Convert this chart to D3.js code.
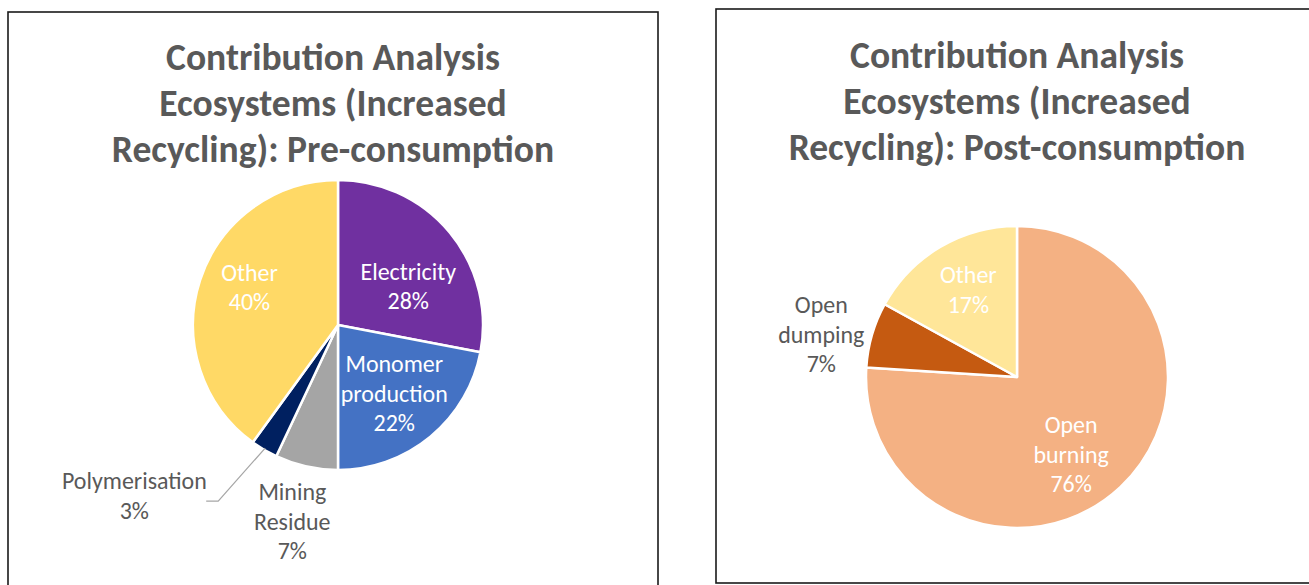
<!DOCTYPE html>
<html><head><meta charset="utf-8">
<script src="https://cdn.jsdelivr.net/npm/d3@7/dist/d3.min.js"></script>
<style>html,body{margin:0;padding:0;background:#fff;overflow:hidden}</style>
</head><body>
<svg id="c" width="1309" height="585"></svg>
<script>
// ---- data ----
const preTitle = ["Contribution Analysis", "Ecosystems (Increased", "Recycling): Pre-consumption"];
const preCategories = ["Electricity", "Monomer production", "Mining Residue", "Polymerisation", "Other"];
const preValues = [28, 22, 7, 3, 40];
const preLabelLines = [["Electricity"], ["Monomer", "production"], ["Mining", "Residue"], ["Polymerisation"], ["Other"]];

const postTitle = ["Contribution Analysis", "Ecosystems (Increased", "Recycling): Post-consumption"];
const postCategories = ["Open burning", "Open dumping", "Other"];
const postValues = [76, 7, 17];
const postLabelLines = [["Open", "burning"], ["Open", "dumping"], ["Other"]];

// ---- styles ----
const FONT = "Carlito, Calibri, 'Open Sans', 'Liberation Sans', sans-serif";
const preColors = ["#7030A0", "#4472C4", "#A5A5A5", "#002060", "#FFD966"];
const postColors = ["#F4B183", "#C55A11", "#FFE699"];
const TXT = "#595959";

const svg = d3.select("#c");

function measure(text, size, weight) {
  const t = svg.append("text").attr("font-family", FONT).attr("font-size", size)
    .attr("font-weight", weight).text(text);
  const w = t.node().getComputedTextLength();
  t.remove();
  return w;
}
const titleSize = 30 * 334 / measure("Contribution Analysis", 30, "bold");
const labelSize = 19 * 145 / measure("Polymerisation", 19, "normal");

function panel(cfg) {
  const g = svg.append("g");
  g.append("rect").attr("x", cfg.box[0]).attr("y", cfg.box[1])
    .attr("width", cfg.box[2]).attr("height", cfg.box[3])
    .attr("fill", "#fff").attr("stroke", "#1a1a1a").attr("stroke-width", 1.6);

  cfg.title.forEach((line, i) => {
    g.append("text").attr("x", cfg.tx).attr("y", cfg.titleY + i * 46)
      .attr("text-anchor", "middle").attr("dominant-baseline", "central")
      .attr("font-family", FONT).attr("font-weight", "bold")
      .attr("font-size", titleSize).attr("fill", TXT).text(line);
  });

  const pie = d3.pie().sort(null).value(d => d)(cfg.values);
  const arc = d3.arc().innerRadius(0).outerRadius(cfg.r);
  const pg = g.append("g").attr("transform", `translate(${cfg.cx},${cfg.cy})`);
  pg.selectAll("path").data(pie).join("path")
    .attr("d", arc).attr("fill", (d, i) => cfg.colors[i])
    .attr("stroke", "#fff").attr("stroke-width", 2.5).attr("stroke-linejoin", "round");

  const labArc = d3.arc().innerRadius(cfg.r * 0.62).outerRadius(cfg.r * 0.62);
  pie.forEach((d, i) => {
    const lp = cfg.labelPos[i];
    let x, y;
    if (lp.outside) {
      const a = (d.startAngle + d.endAngle) / 2;
      x = Math.sin(a) * cfg.r * lp.k + lp.dx;
      y = -Math.cos(a) * cfg.r * lp.k + lp.dy;
    } else {
      const c = labArc.centroid(d);
      x = c[0] + lp.dx; y = c[1] + lp.dy;
    }
    const lines = cfg.labelLines[i].concat([d.data + "%"]);
    const lh = 29.3;
    const y0 = y - (lines.length - 1) * lh / 2;
    lines.forEach((ln, j) => {
      pg.append("text").attr("x", x).attr("y", y0 + j * lh)
        .attr("text-anchor", "middle").attr("dominant-baseline", "central")
        .attr("font-family", FONT).attr("font-size", labelSize)
        .attr("fill", lp.outside ? TXT : "#fff").text(ln);
    });
    if (lp.leader) {
      const a = (d.startAngle + d.endAngle) / 2;
      const p0 = [Math.sin(a) * (cfg.r - 2), -Math.cos(a) * (cfg.r - 2)];
      const p1 = [p0[0] - 47, p0[1] + 53];
      const p2 = [p1[0] - 12, p1[1]];
      pg.append("path").attr("d", d3.line()([p0, p1, p2]))
        .attr("fill", "none").attr("stroke", "#A6A6A6").attr("stroke-width", 1.2);
    }
  });
}

panel({
  box: [8, 12, 650, 600], tx: 333, cx: 338, cy: 325, titleY: 57,
  title: preTitle, values: preValues, colors: preColors, labelLines: preLabelLines,
  r: 145,
  labelPos: [
    {dx: 1, dy: 18},
    {dx: -1, dy: -1},
    {outside: true, k: 1.35, dx: -3, dy: 5},
    {outside: true, k: 1.35, dx: -104, dy: 2, leader: true},
    {dx: -3, dy: -10}
  ]
});

panel({
  box: [716, 9, 602, 574], tx: 1017, cx: 1017, cy: 377, titleY: 55,
  title: postTitle, values: postValues, colors: postColors, labelLines: postLabelLines,
  r: 151,
  labelPos: [
    {dx: -10, dy: 9},
    {outside: true, k: 1.35, dx: 0, dy: 14},
    {dx: -1, dy: -7}
  ]
});
</script>
</body></html>
